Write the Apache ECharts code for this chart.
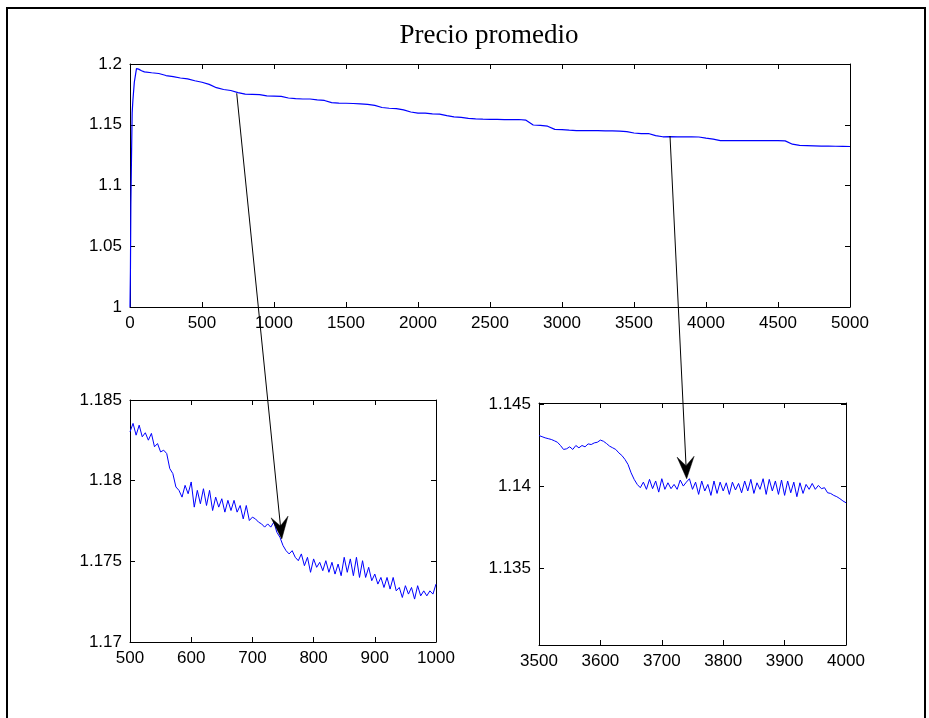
<!DOCTYPE html>
<html>
<head>
<meta charset="utf-8">
<script src="https://cdn.jsdelivr.net/npm/echarts@6/dist/echarts.min.js"></script>
<style>
html,body{margin:0;padding:0;background:#fff;}
#chart{width:929px;height:718px;}
</style>
</head>
<body>
<div id="chart"></div>
<script>
// ---------- DATA ----------
var titleText = "Precio promedio";

// Full series (sampled)
var topX = [0,3,6,10,15,20,30,45,60,80,100,150,200,250,300,350,400,450,500,550,600,650,700,750,800,850,900,950,1000,1050,1100,1150,1200,1250,1300,1350,1400,1450,1500,1550,1600,1650,1700,1750,1800,1850,1900,1950,2000,2050,2100,2150,2200,2250,2300,2350,2400,2450,2500,2550,2600,2650,2700,2750,2800,2850,2900,2950,3000,3050,3100,3150,3200,3250,3300,3350,3400,3450,3500,3550,3600,3650,3700,3750,3800,3850,3900,3950,4000,4050,4100,4150,4200,4250,4300,4350,4400,4450,4500,4550,4600,4650,4700,4750,4800,4850,4900,4950,5000];
var topY = [1.000,1.030,1.085,1.120,1.160,1.170,1.185,1.1962,1.1958,1.1945,1.1935,1.1928,1.1922,1.1905,1.1896,1.1885,1.1877,1.1862,1.1850,1.1832,1.1805,1.1790,1.1782,1.1765,1.1752,1.1750,1.1748,1.1737,1.1735,1.1733,1.1720,1.1715,1.1712,1.1712,1.1705,1.1700,1.1682,1.1678,1.1677,1.1675,1.1672,1.1668,1.1660,1.1642,1.1636,1.1632,1.1622,1.1605,1.1596,1.1595,1.1590,1.1588,1.1575,1.1565,1.1560,1.1552,1.1548,1.1546,1.1545,1.1544,1.1543,1.1543,1.1543,1.1538,1.1498,1.1495,1.1488,1.1462,1.1460,1.1455,1.1452,1.1452,1.1451,1.1451,1.1450,1.1450,1.1447,1.1443,1.1432,1.1427,1.1428,1.1410,1.1401,1.1402,1.1400,1.1401,1.1400,1.1399,1.1390,1.1382,1.1370,1.1369,1.1369,1.1369,1.1369,1.1369,1.1369,1.1369,1.1369,1.1367,1.1340,1.1330,1.1328,1.1326,1.1324,1.1324,1.1323,1.1322,1.1321];

// Zoom 500-1000 (every 5)
var zoom1X = [500,505,510,515,520,525,530,535,540,545,550,555,560,565,570,575,580,585,590,595,600,605,610,615,620,625,630,635,640,645,650,655,660,665,670,675,680,685,690,695,700,705,710,715,720,725,730,735,740,745,750,755,760,765,770,775,780,785,790,795,800,805,810,815,820,825,830,835,840,845,850,855,860,865,870,875,880,885,890,895,900,905,910,915,920,925,930,935,940,945,950,955,960,965,970,975,980,985,990,995,1000];
var zoom1Y = [1.18303,1.18355,1.18282,1.18344,1.18272,1.18297,1.18251,1.18293,1.18210,1.18230,1.18178,1.18189,1.18168,1.18075,1.18044,1.17961,1.17940,1.17898,1.17971,1.17919,1.17992,1.17836,1.17940,1.17857,1.17950,1.17846,1.17940,1.17815,1.17898,1.17836,1.17888,1.17805,1.17878,1.17815,1.17878,1.17805,1.17846,1.17763,1.17846,1.17753,1.17774,1.17763,1.17743,1.17732,1.17712,1.17732,1.17712,1.17743,1.17680,1.17649,1.17598,1.17566,1.17546,1.17566,1.17525,1.17504,1.17546,1.17473,1.17525,1.17432,1.17515,1.17463,1.17494,1.17442,1.17504,1.17432,1.17494,1.17421,1.17483,1.17411,1.17525,1.17432,1.17515,1.17411,1.17525,1.17400,1.17504,1.17400,1.17463,1.17380,1.17421,1.17359,1.17400,1.17338,1.17400,1.17328,1.17400,1.17317,1.17338,1.17276,1.17349,1.17297,1.17338,1.17266,1.17349,1.17286,1.17317,1.17286,1.17317,1.17297,1.17359];

// Zoom 3500-4000 (every 5)
var zoom2X = [3500,3505,3510,3515,3520,3525,3530,3535,3540,3545,3550,3555,3560,3565,3570,3575,3580,3585,3590,3595,3600,3605,3610,3615,3620,3625,3630,3635,3640,3645,3650,3655,3660,3665,3670,3675,3680,3685,3690,3695,3700,3705,3710,3715,3720,3725,3730,3735,3740,3745,3750,3755,3760,3765,3770,3775,3780,3785,3790,3795,3800,3805,3810,3815,3820,3825,3830,3835,3840,3845,3850,3855,3860,3865,3870,3875,3880,3885,3890,3895,3900,3905,3910,3915,3920,3925,3930,3935,3940,3945,3950,3955,3960,3965,3970,3975,3980,3985,3990,3995,4000];
var zoom2Y = [1.14311,1.14304,1.14297,1.14292,1.14287,1.14279,1.14270,1.14250,1.14226,1.14230,1.14242,1.14226,1.14250,1.14236,1.14250,1.14242,1.14260,1.14256,1.14266,1.14270,1.14283,1.14276,1.14262,1.14246,1.14236,1.14226,1.14205,1.14189,1.14165,1.14134,1.14083,1.14043,1.14012,1.13992,1.14026,1.13982,1.14043,1.13986,1.14033,1.13965,1.14047,1.13982,1.14022,1.13986,1.14012,1.13982,1.14039,1.14002,1.14026,1.14047,1.13982,1.14026,1.13951,1.14033,1.13972,1.14012,1.13945,1.14033,1.13957,1.14026,1.13972,1.14022,1.13951,1.14026,1.13978,1.14018,1.13961,1.14033,1.13972,1.14043,1.13957,1.14022,1.13982,1.14047,1.13951,1.14043,1.13972,1.14033,1.13951,1.14039,1.13945,1.14033,1.13961,1.14026,1.13937,1.14022,1.13957,1.14012,1.13982,1.14018,1.13982,1.14006,1.13986,1.13992,1.13961,1.13957,1.13945,1.13937,1.13925,1.13911,1.13900];

// Axis settings
var topXTicks = {min:0, max:5000, interval:500};
var topYTicks = {min:1.0, max:1.2, interval:0.05};
var z1XTicks = {min:500, max:1000, interval:100};
var z1YTicks = {min:1.17, max:1.185, interval:0.005};
var z2XTicks = {min:3500, max:4000, interval:100};
var z2YRange = {min:1.1303, max:1.1451};
var z2YLabels = [1.135, 1.14, 1.145];

// Arrow anchors (data coordinates)
var arrow1 = {from:[741, 1.1759], to:[748, 1.17639]};
var arrow2 = {from:[3750, 1.14074], to:[3740.5, 1.14047]};

// ---------- CHART ----------
function zip(a, b){ return a.map(function(v,i){ return [v, b[i]]; }); }
function fmt(v){ return String(+(+v).toFixed(5)); }

var FONT = "Liberation Sans";
var labelStyle = {color:'#000', fontFamily:FONT, fontSize:17, margin:8, formatter:fmt};

function axisBase(extra){
  var o = {
    type:'value', scale:true,
    axisLine:{show:true, onZero:false, lineStyle:{color:'#000', width:1}},
    axisTick:{show:true, inside:true, length:5, lineStyle:{color:'#000'}},
    splitLine:{show:false},
    axisLabel:Object.assign({}, labelStyle)
  };
  for (var k in extra) o[k] = extra[k];
  return o;
}
function mirror(base, pos){
  var o = Object.assign({}, base);
  o.axisLine = Object.assign({}, base.axisLine);
  o.axisTick = Object.assign({}, base.axisTick);
  o.position = pos;
  o.axisLabel = Object.assign({}, base.axisLabel, {show:false});
  return o;
}

var grids = [
  {left:130, top:64, width:720, height:243},
  {left:130, top:400, width:306, height:242},
  {left:539, top:403, width:307, height:242}
];

var xA = [], yA = [];
var xDefs = [
  axisBase({gridIndex:0, min:topXTicks.min, max:topXTicks.max, interval:topXTicks.interval, position:'bottom'}),
  axisBase({gridIndex:1, min:z1XTicks.min, max:z1XTicks.max, interval:z1XTicks.interval, position:'bottom'}),
  axisBase({gridIndex:2, min:z2XTicks.min, max:z2XTicks.max, interval:z2XTicks.interval, position:'bottom'})
];
var y2 = axisBase({gridIndex:2, min:z2YRange.min, max:z2YRange.max, position:'left'});
y2.axisLabel = Object.assign({}, y2.axisLabel, {customValues:z2YLabels});
y2.axisTick = Object.assign({}, y2.axisTick, {customValues:z2YLabels});
var yDefs = [
  axisBase({gridIndex:0, min:topYTicks.min, max:topYTicks.max, interval:topYTicks.interval, position:'left'}),
  axisBase({gridIndex:1, min:z1YTicks.min, max:z1YTicks.max, interval:z1YTicks.interval, position:'left'}),
  y2
];
xDefs.forEach(function(d){ xA.push(d); });
xDefs.forEach(function(d){ xA.push(mirror(d,'top')); });
yDefs.forEach(function(d){ yA.push(d); });
yDefs.forEach(function(d){ yA.push(mirror(d,'right')); });

function lineSeries(i, data, w){
  return {type:'line', xAxisIndex:i, yAxisIndex:i, data:data, showSymbol:false, symbol:'none',
    animation:false, lineStyle:{color:'#0000FF', width:w}, silent:true};
}

var chart = echarts.init(document.getElementById('chart'), null, {renderer:'canvas'});
var option = {
  animation:false,
  backgroundColor:'#fff',
  grid: grids,
  xAxis: xA,
  yAxis: yA,
  series: [
    lineSeries(0, zip(topX, topY), 1.2),
    lineSeries(1, zip(zoom1X, zoom1Y), 1),
    lineSeries(2, zip(zoom2X, zoom2Y), 1)
  ]
};
chart.setOption(option);

function arrowGraphics(a, gFrom, gTo){
  var p0 = chart.convertToPixel({gridIndex:gFrom}, a.from);
  var p1 = chart.convertToPixel({gridIndex:gTo}, a.to);
  var dx = p1[0]-p0[0], dy = p1[1]-p0[1];
  var L = Math.sqrt(dx*dx+dy*dy), ux = dx/L, uy = dy/L, nx = -uy, ny = ux;
  var hl = 22, hw = 8.5, notch = 13;
  var tip = p1;
  var b1 = [tip[0]-ux*hl+nx*hw, tip[1]-uy*hl+ny*hw];
  var b2 = [tip[0]-ux*hl-nx*hw, tip[1]-uy*hl-ny*hw];
  var nc = [tip[0]-ux*notch, tip[1]-uy*notch];
  return [
    {type:'polyline', z:100, shape:{points:[p0, nc]}, style:{stroke:'#000', lineWidth:1, fill:null}},
    {type:'polygon', z:100, shape:{points:[tip, b1, nc, b2]}, style:{fill:'#000', stroke:'#000', lineWidth:0.5}}
  ];
}

var g = [
  {type:'rect', z:0, shape:{x:7, y:8, width:918, height:730}, style:{fill:null, stroke:'#000', lineWidth:2}},
  {type:'text', z:100, x:489, y:22, style:{text:titleText, fontFamily:'Liberation Serif', fontSize:27, fill:'#000', textAlign:'center'}}
];
g = g.concat(arrowGraphics(arrow1, 0, 1), arrowGraphics(arrow2, 0, 2));
chart.setOption({graphic:{elements:g}});
</script>
</body>
</html>
